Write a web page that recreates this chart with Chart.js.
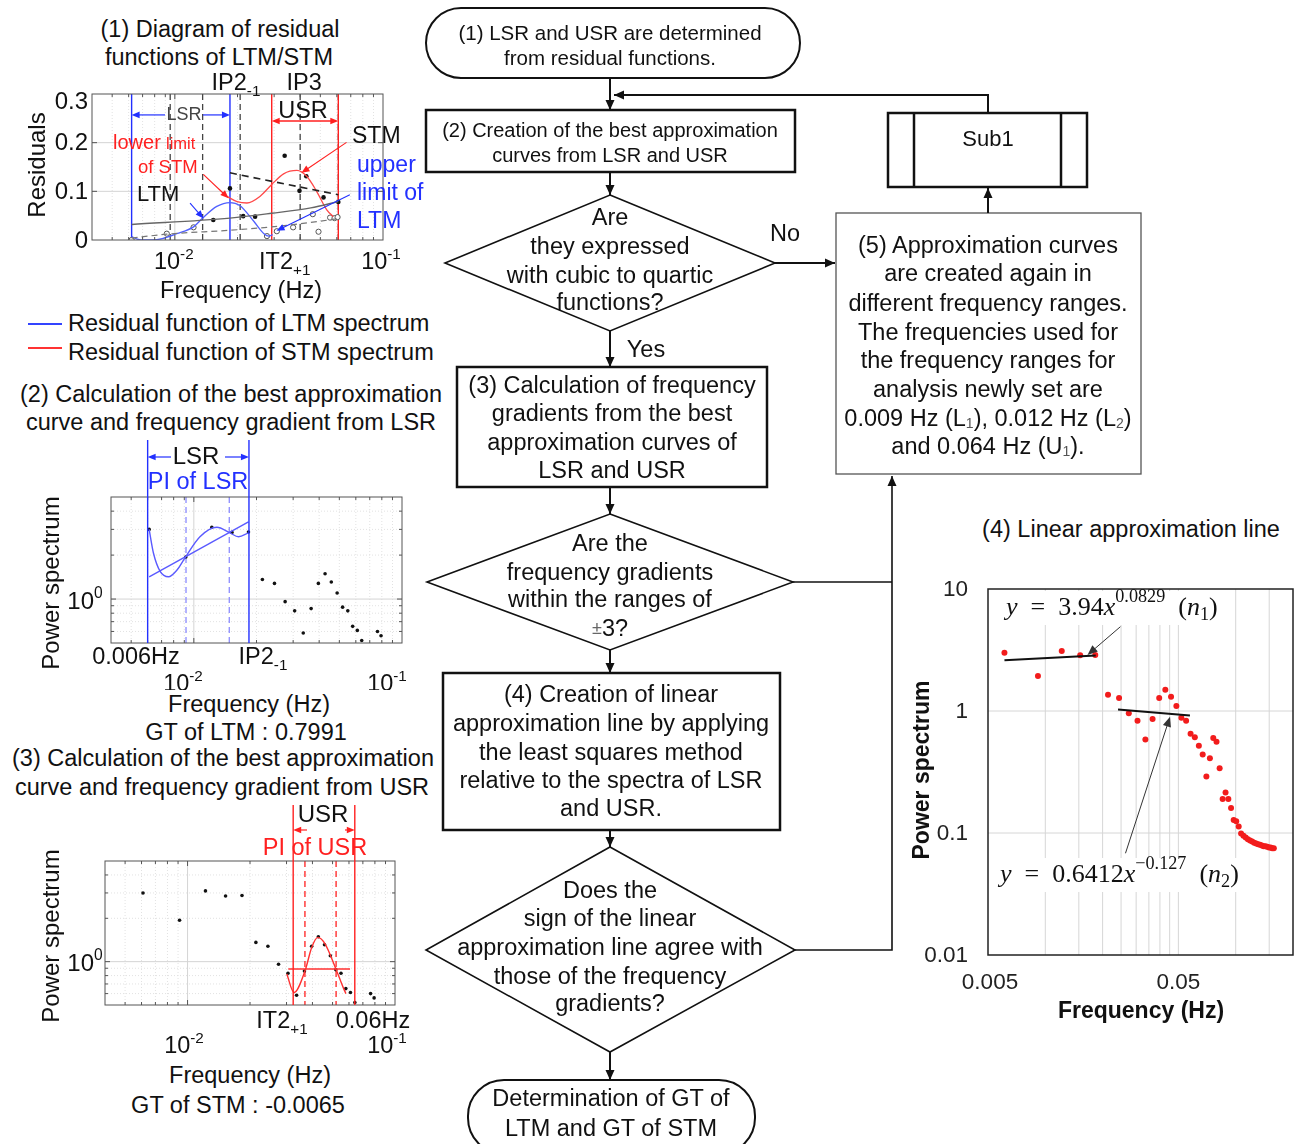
<!DOCTYPE html>
<html>
<head>
<meta charset="utf-8">
<script src="https://cdn.jsdelivr.net/npm/chart.js@4.4.1/dist/chart.umd.min.js"></script>
<style>
  body { margin:0; width:1304px; height:1144px; position:relative; overflow:hidden; background:#fff;
         font-family:"Liberation Sans", Arial, sans-serif; color:#111; }
  canvas { position:absolute; }
  .t { position:absolute; white-space:nowrap; font-size:23.5px; line-height:1; transform:translate(-50%,-50%); }
  .l { position:absolute; white-space:nowrap; font-size:23.5px; line-height:1; transform:translateY(-50%); }
  .sw { position:absolute; width:34px; height:0; }
  #flow { position:absolute; left:0; top:0; pointer-events:none; }
  #flow text { font-family:"Liberation Sans", Arial, sans-serif; fill:#111; }
</style>
</head>
<body>

<div class="t" style="left:220px;top:30px">(1) Diagram of residual</div>
<div class="t" style="left:219px;top:58px">functions of LTM/STM</div>
<canvas id="c1" width="440" height="240" style="left:0;top:70px"></canvas>
<div class="sw" style="left:28px;top:323px;border-top:2px solid #3344ff"></div>
<div class="l" style="left:68px;top:324px">Residual function of LTM spectrum</div>
<div class="sw" style="left:28px;top:347px;border-top:2px solid #ff3333"></div>
<div class="l" style="left:68px;top:353px">Residual function of STM spectrum</div>

<div class="t" style="left:231px;top:395px">(2) Calculation of the best approximation</div>
<div class="t" style="left:231px;top:423px">curve and frequency gradient from LSR</div>
<canvas id="c2" width="440" height="260" style="left:0;top:430px"></canvas>
<div class="t" style="left:249px;top:705px">Frequency (Hz)</div>
<div class="t" style="left:246px;top:733px">GT of LTM : 0.7991</div>

<div class="t" style="left:223px;top:759px">(3) Calculation of the best approximation</div>
<div class="t" style="left:222px;top:788px">curve and frequency gradient from USR</div>
<canvas id="c3" width="440" height="265" style="left:0;top:795px"></canvas>
<div class="t" style="left:250px;top:1076px">Frequency (Hz)</div>
<div class="t" style="left:238px;top:1106px">GT of STM : -0.0065</div>

<div class="t" style="left:1131px;top:530px">(4) Linear approximation line</div>
<canvas id="c4" width="404" height="480" style="left:900px;top:560px"></canvas>

<svg id="flow" width="1304" height="1144">
  <defs>
    <marker id="ah" markerUnits="userSpaceOnUse" markerWidth="10" markerHeight="10" viewBox="0 0 10 10" refX="10" refY="5" orient="auto">
      <path d="M0,0.5 L10,5 L0,9.5 z" fill="#111"/>
    </marker>
  </defs>
  <g fill="none" stroke="#111">
    <rect x="426" y="8" width="374" height="70" rx="35" stroke-width="2"/>
    <line x1="610" y1="78" x2="610" y2="110" stroke-width="2" marker-end="url(#ah)"/>
    <polyline points="988,113 988,95 614,95" stroke-width="2" marker-end="url(#ah)"/>
    <rect x="426" y="110" width="369" height="62" stroke-width="2.5"/>
    <line x1="610" y1="172" x2="610" y2="195" stroke-width="2" marker-end="url(#ah)"/>
    <polygon points="610,195 775,263 610,331 445,263" stroke-width="1.6"/>
    <line x1="775" y1="263" x2="835" y2="263" stroke-width="2" marker-end="url(#ah)"/>
    <line x1="610" y1="331" x2="610" y2="367" stroke-width="2" marker-end="url(#ah)"/>
    <rect x="457" y="367" width="310" height="120" stroke-width="2.5"/>
    <line x1="610" y1="487" x2="610" y2="514" stroke-width="2" marker-end="url(#ah)"/>
    <polygon points="610,514 793,582 610,650 427,582" stroke-width="1.6"/>
    <polyline points="793,582 892,582" stroke-width="1.6"/>
    <polyline points="795,950 892,950 892,476" stroke-width="1.6" marker-end="url(#ah)"/>
    <line x1="610" y1="650" x2="610" y2="673" stroke-width="2" marker-end="url(#ah)"/>
    <rect x="443" y="673" width="337" height="157" stroke-width="2.5"/>
    <line x1="610" y1="830" x2="610" y2="847" stroke-width="2" marker-end="url(#ah)"/>
    <polygon points="610,847 795,950 610,1052 426,950" stroke-width="1.6"/>
    <line x1="610" y1="1052" x2="610" y2="1080" stroke-width="2" marker-end="url(#ah)"/>
    <rect x="468" y="1080" width="287" height="74" rx="36" stroke-width="2"/>
    <rect x="836" y="213" width="305" height="261" stroke="#555" stroke-width="1.3"/>
    <line x1="988" y1="213" x2="988" y2="188" stroke-width="2" marker-end="url(#ah)"/>
    <rect x="888" y="113" width="199" height="74" stroke-width="2.5"/>
    <line x1="914" y1="113" x2="914" y2="187" stroke-width="2.5"/>
    <line x1="1061" y1="113" x2="1061" y2="187" stroke-width="2.5"/>
  </g>
  <g text-anchor="middle" dominant-baseline="central">
    <text x="610" y="32" font-size="20.5">(1) LSR and USR are determined</text>
    <text x="610" y="57" font-size="20.5">from residual functions.</text>
    <text x="610" y="130" font-size="20">(2) Creation of the best approximation</text>
    <text x="610" y="155" font-size="20">curves from LSR and USR</text>
    <text x="610" y="217" font-size="23.5">Are</text>
    <text x="610" y="246" font-size="23.5">they expressed</text>
    <text x="610" y="275" font-size="23.5">with cubic to quartic</text>
    <text x="610" y="302" font-size="23.5">functions?</text>
    <text x="785" y="233" font-size="23.5">No</text>
    <text x="646" y="349" font-size="23.5">Yes</text>
    <text x="612" y="385" font-size="23.5">(3) Calculation of frequency</text>
    <text x="612" y="413" font-size="23.5">gradients from the best</text>
    <text x="612" y="442" font-size="23.5">approximation curves of</text>
    <text x="612" y="470" font-size="23.5">LSR and USR</text>
    <text x="610" y="543" font-size="23.5">Are the</text>
    <text x="610" y="572" font-size="23.5">frequency  gradients</text>
    <text x="610" y="599" font-size="23.5">within the ranges of</text>
    <text x="610" y="628" font-size="23.5"><tspan font-size="18" fill="#666">±</tspan>3?</text>
    <text x="611" y="694" font-size="23.5">(4) Creation of linear</text>
    <text x="611" y="723" font-size="23.5">approximation line by applying</text>
    <text x="611" y="752" font-size="23.5">the least squares method</text>
    <text x="611" y="780" font-size="23.5">relative to the spectra of LSR</text>
    <text x="611" y="808" font-size="23.5">and USR.</text>
    <text x="610" y="890" font-size="23.5">Does the</text>
    <text x="610" y="918" font-size="23.5">sign of the linear</text>
    <text x="610" y="947" font-size="23.5">approximation line agree with</text>
    <text x="610" y="976" font-size="23.5">those of the frequency</text>
    <text x="610" y="1003" font-size="23.5">gradients?</text>
    <text x="611" y="1098" font-size="23.5">Determination of GT of</text>
    <text x="611" y="1128" font-size="23.5">LTM and GT of STM</text>
    <text x="988" y="138" font-size="22">Sub1</text>
    <text x="988" y="245" font-size="23.5">(5) Approximation curves</text>
    <text x="988" y="273" font-size="23.5">are created again in</text>
    <text x="988" y="303" font-size="23.5">different frequency ranges.</text>
    <text x="988" y="332" font-size="23.5">The frequencies used for</text>
    <text x="988" y="360" font-size="23.5">the frequency ranges for</text>
    <text x="988" y="389" font-size="23.5">analysis newly set are</text>
    <text x="988" y="418" font-size="23.5">0.009 Hz (L<tspan font-size="14" dy="5" fill="#555">1</tspan><tspan dy="-5">), 0.012 Hz (L</tspan><tspan font-size="14" dy="5" fill="#555">2</tspan><tspan dy="-5">)</tspan></text>
    <text x="988" y="446" font-size="23.5">and 0.064 Hz (U<tspan font-size="14" dy="5" fill="#555">1</tspan><tspan dy="-5">).</tspan></text>
  </g>
</svg>

<script>
// ---- spectrum shared by panels (2), (3) and (4) ----
const freqHz = [0.0061, 0.00915, 0.0122, 0.01525, 0.0183, 0.02135, 0.0244, 0.02745, 0.0305, 0.03355,
  0.0366, 0.03965, 0.0427, 0.04575, 0.0488, 0.05185, 0.0549, 0.05795, 0.061, 0.06405,
  0.0671, 0.07015, 0.0732, 0.07625, 0.0793, 0.08235, 0.0854, 0.08845, 0.0915, 0.09455,
  0.0976, 0.10065, 0.1037, 0.10675, 0.1098, 0.11285, 0.1159, 0.11895, 0.122, 0.12505,
  0.1281, 0.13115, 0.1342, 0.13725, 0.1403, 0.14335, 0.1464, 0.14945, 0.1525, 0.15555, 0.1586];
const power = [3.0, 1.94, 3.1, 2.86, 2.88, 1.36, 1.28, 0.96, 0.83, 0.585,
  0.86, 1.28, 1.49, 1.31, 1.1, 0.88, 0.83, 0.65, 0.61, 0.52,
  0.44, 0.29, 0.41, 0.6, 0.56, 0.34, 0.19, 0.215, 0.19, 0.16,
  0.128, 0.125, 0.113, 0.099, 0.095, 0.092, 0.089, 0.087, 0.085, 0.083,
  0.082, 0.081, 0.08, 0.079, 0.078, 0.078, 0.077, 0.076, 0.076, 0.075, 0.075];

// ---- panel (1): residual functions ----
const ltmResX = [0.0062, 0.0066, 0.0071, 0.0078, 0.0087, 0.0102, 0.0123, 0.0136, 0.0159, 0.0184, 0.0205, 0.024, 0.0268, 0.0283, 0.0295];
const ltmResY = [0.007, 0.002, 0.0, 0.0, 0.003, 0.013, 0.027, 0.045, 0.069, 0.077, 0.071, 0.038, 0.013, 0.008, 0.011];
const stmResX = [0.0177, 0.0199, 0.0222, 0.0257, 0.0292, 0.0333, 0.0386, 0.043, 0.048, 0.0537, 0.0577];
const stmResY = [0.09, 0.079, 0.076, 0.09, 0.114, 0.136, 0.143, 0.131, 0.1, 0.062, 0.048];
const ltmFitX = [0.0062, 0.0184, 0.0292, 0.045, 0.061];
const ltmFitY = [0.032, 0.045, 0.055, 0.066, 0.079];
const lowDashX = [0.0062, 0.00915, 0.0184, 0.0277, 0.045, 0.061];
const lowDashY = [0.004, 0.012, 0.02, 0.026, 0.036, 0.044];
const highDashX = [0.0184, 0.061];
const highDashY = [0.138, 0.093];
const stmDotX = [0.0153, 0.0184, 0.0213, 0.0243, 0.0337, 0.0397, 0.0428, 0.0518, 0.061];
const stmDotY = [0.041, 0.106, 0.049, 0.048, 0.173, 0.101, 0.131, 0.0875, 0.078];
const ltmRingX = [0.0062, 0.00915, 0.0123, 0.0277, 0.0309, 0.037, 0.046, 0.049, 0.0557, 0.0585, 0.0605];
const ltmRingY = [0.0, 0.013, 0.026, 0.008, 0.018, 0.026, 0.053, 0.017, 0.046, 0.045, 0.047];
const res1Dashed = [0.0095, 0.0136, 0.0206, 0.04, 0.061];
const res1Lsr = [0.0062, 0.0184];
const res1Usr = [0.0292, 0.061];
const res1TicksY = [0, 0.1, 0.2, 0.3];

// ---- panel (2): LSR ----
const lsrEdge = [0.006, 0.0184];
const lsrPI = [0.00917, 0.0148];
const lsrCubicX = [0.0061, 0.0064, 0.0069, 0.00755, 0.0083, 0.0091, 0.0107, 0.0129, 0.0149, 0.0164, 0.0183];
const lsrCubicY = [3.0, 2.06, 1.54, 1.42, 1.58, 1.93, 2.67, 3.1, 2.84, 2.67, 2.84];
const lsrLineX = [0.0061, 0.0183];
const lsrLineY = [1.42, 3.38];

// ---- panel (3): USR ----
const usrEdge = [0.0323, 0.064];
const usrPI = [0.0368, 0.052];
const usrCubicX = [0.0301, 0.0326, 0.0368, 0.0397, 0.0425, 0.046, 0.0519, 0.0563, 0.058];
const usrCubicY = [0.82, 0.61, 0.86, 1.26, 1.475, 1.33, 0.89, 0.66, 0.6];
const usrLineX = [0.0306, 0.0607];
const usrLineY = [0.89, 0.89];

// ---- panel (4): linear approximation ----
const fit1X = [0.0061, 0.0184];
const fit1Y = [2.6, 2.85];
const fit2X = [0.0241, 0.0575];
const fit2Y = [1.03, 0.92];
const lin4TicksY = [10, 1, 0.1, 0.01];
const lin4GridX = [0.01, 0.015, 0.02, 0.025, 0.03, 0.035, 0.04, 0.045, 0.05, 0.1, 0.15];
const lin4GridY = [1, 0.1];

// grid positions of the MATLAB style panels
const logGridX = [0.005, 0.006, 0.007, 0.008, 0.009, 0.01, 0.02, 0.03, 0.04, 0.05, 0.06, 0.07, 0.08, 0.09];
const specGridY = [0.6, 0.7, 0.8, 0.9, 1, 2, 3, 4];

const FONT = '"Liberation Sans", Arial, sans-serif';
const SERIF = '"Liberation Serif", "DejaVu Serif", serif';
const BLUE = '#2230ff', RED = '#ff2020';

function pts(xs, ys) { return xs.map((x, i) => ({ x: x, y: ys[i] })); }

function seg(ctx, x0, y0, x1, y1, color, w, dash) {
  ctx.save();
  ctx.strokeStyle = color; ctx.lineWidth = w; ctx.setLineDash(dash || []);
  ctx.beginPath(); ctx.moveTo(x0, y0); ctx.lineTo(x1, y1); ctx.stroke();
  ctx.restore();
}
function tri(ctx, x, y, ang, h) {
  const c = Math.cos(ang), s = Math.sin(ang), w = h * 0.42;
  ctx.beginPath(); ctx.moveTo(x, y);
  ctx.lineTo(x - h * c + w * s, y - h * s - w * c);
  ctx.lineTo(x - h * c - w * s, y - h * s + w * c);
  ctx.closePath(); ctx.fill();
}
function arrow(ctx, x0, y0, x1, y1, color, w, h, both) {
  const ang = Math.atan2(y1 - y0, x1 - x0);
  const k = h * 0.8;
  const sx = both ? x0 + Math.cos(ang) * k : x0, sy = both ? y0 + Math.sin(ang) * k : y0;
  seg(ctx, sx, sy, x1 - Math.cos(ang) * k, y1 - Math.sin(ang) * k, color, w);
  ctx.save(); ctx.fillStyle = color;
  tri(ctx, x1, y1, ang, h);
  if (both) tri(ctx, x0, y0, ang + Math.PI, h);
  ctx.restore();
}
function txt(ctx, s, x, y, size, color, align, weight) {
  ctx.save();
  ctx.font = (weight ? weight + ' ' : '') + size + 'px ' + FONT;
  ctx.fillStyle = color; ctx.textAlign = align || 'center'; ctx.textBaseline = 'middle';
  ctx.fillText(s, x, y);
  ctx.restore();
}
function vtxt(ctx, s, x, y, size, color, weight) {
  ctx.save(); ctx.translate(x, y); ctx.rotate(-Math.PI / 2);
  txt(ctx, s, 0, 0, size, color, 'center', weight);
  ctx.restore();
}
// base text with a raised (sup) or lowered (sub) small part, centred on cx
function scriptTxt(ctx, base, small, cx, cy, size, color, lowered) {
  ctx.save();
  ctx.font = size + 'px ' + FONT; const wb = ctx.measureText(base).width;
  ctx.font = (size * 0.65) + 'px ' + FONT; const ws = ctx.measureText(small).width;
  const x = cx - (wb + ws) / 2;
  ctx.fillStyle = color; ctx.textAlign = 'left'; ctx.textBaseline = 'middle';
  ctx.font = size + 'px ' + FONT; ctx.fillText(base, x, cy);
  ctx.font = (size * 0.65) + 'px ' + FONT;
  ctx.fillText(small, x + wb, lowered ? cy + size * 0.32 : cy - size * 0.36);
  ctx.restore();
}
function frame(ctx, a, color, w) {
  ctx.save(); ctx.strokeStyle = color; ctx.lineWidth = w;
  ctx.strokeRect(a.left, a.top, a.right - a.left, a.bottom - a.top);
  ctx.restore();
}
function isDecade(v) { return Math.abs(Math.log10(v) - Math.round(Math.log10(v))) < 1e-6; }

// MATLAB-like grid with dotted minor lines and inward ticks
function matGrid(c, gx, gy, majorY) {
  const ctx = c.ctx, a = c.chartArea;
  gx.forEach(v => {
    const x = c.scales.x.getPixelForValue(v), maj = isDecade(v);
    seg(ctx, x, a.top, x, a.bottom, maj ? '#d4d4d4' : '#e2e2e2', 1, maj ? [] : [1, 2]);
  });
  gy.forEach(v => {
    const y = c.scales.y.getPixelForValue(v), maj = majorY(v);
    seg(ctx, a.left, y, a.right, y, maj ? '#d4d4d4' : '#e2e2e2', 1, maj ? [] : [1, 2]);
  });
}
function matTicks(c, gx, gy, majorY) {
  const ctx = c.ctx, a = c.chartArea;
  gx.forEach(v => {
    const x = c.scales.x.getPixelForValue(v), L = isDecade(v) ? 5 : 3;
    seg(ctx, x, a.bottom, x, a.bottom - L, '#555', 1);
    seg(ctx, x, a.top, x, a.top + L, '#555', 1);
  });
  gy.forEach(v => {
    const y = c.scales.y.getPixelForValue(v), L = majorY(v) ? 5 : 3;
    seg(ctx, a.left, y, a.left + L, y, '#555', 1);
    seg(ctx, a.right, y, a.right - L, y, '#555', 1);
  });
}

function makeChart(id, pad, xs, ys, datasets, draw) {
  return new Chart(document.getElementById(id), {
    type: 'scatter',
    data: { datasets: datasets },
    options: {
      responsive: false, animation: false, events: [],
      layout: { padding: pad },
      plugins: { legend: { display: false }, tooltip: { enabled: false } },
      scales: { x: Object.assign({ display: false }, xs), y: Object.assign({ display: false }, ys) }
    },
    plugins: [{ id: 'decor', beforeDatasetsDraw: c => draw.under(c), afterDatasetsDraw: c => draw.over(c) }]
  });
}

function curve(xs, ys, color, w, dash, smooth) {
  return { data: pts(xs, ys), showLine: true, borderColor: color, borderWidth: w, borderDash: dash || [],
           pointRadius: 0, cubicInterpolationMode: smooth ? 'monotone' : 'default', tension: 0 };
}
function dots(xs, ys, r, fill, stroke, bw) {
  return { data: pts(xs, ys), showLine: false, pointRadius: r, pointBackgroundColor: fill,
           pointBorderColor: stroke, pointBorderWidth: bw };
}

// ================= panel (1) =================
const res1Major = v => v === 0.1 || v === 0.2;
makeChart('c1', { left: 92, top: 24, right: 57, bottom: 70 },
  { type: 'logarithmic', min: 0.004, max: 0.1 }, { type: 'linear', min: 0, max: 0.3 },
  [
    curve(ltmFitX, ltmFitY, '#666', 1.4, null, true),
    curve(lowDashX, lowDashY, '#777', 1.2, [6, 4], true),
    curve(highDashX, highDashY, '#222', 1.6, [7, 5], false),
    curve(ltmResX, ltmResY, '#5060ff', 1.3, null, true),
    curve(stmResX, stmResY, '#ff4848', 1.3, null, true),
    dots(ltmRingX, ltmRingY, 2.6, '#fff', '#555', 1),
    dots(stmDotX, stmDotY, 2.3, '#111', '#111', 0)
  ],
  {
    under(c) {
      const ctx = c.ctx, a = c.chartArea, X = v => c.scales.x.getPixelForValue(v);
      matGrid(c, logGridX, [0.1, 0.2], res1Major);
      res1Dashed.forEach(v => seg(ctx, X(v), a.top, X(v), a.bottom, '#444', 1.3, [6, 4]));
      res1Lsr.forEach(v => seg(ctx, X(v), a.top, X(v), a.bottom, BLUE, 1.4));
      res1Usr.forEach(v => seg(ctx, X(v), a.top, X(v), a.bottom, RED, 1.4));
    },
    over(c) {
      const ctx = c.ctx, a = c.chartArea;
      const X = v => c.scales.x.getPixelForValue(v), Y = v => c.scales.y.getPixelForValue(v);
      matTicks(c, logGridX, [0.1, 0.2], res1Major);
      frame(ctx, a, '#555', 1);
      res1TicksY.forEach(v => txt(ctx, String(v), 88, Math.max(Y(v) + 1, a.top + 8), 24, '#111', 'right'));
      scriptTxt(ctx, '10', '-2', X(0.01) - 1, 193, 23.5, '#111');
      scriptTxt(ctx, 'IT2', '+1', X(res1Usr[0]) + 13, 193, 23.5, '#111', true);
      scriptTxt(ctx, '10', '-1', X(0.1) - 2, 193, 23.5, '#111');
      txt(ctx, 'Frequency (Hz)', 241, 222, 23.5, '#111');
      vtxt(ctx, 'Residuals', 38, 95, 24, '#111');
      scriptTxt(ctx, 'IP2', '-1', X(res1Lsr[1]) + 6, 14, 23.5, '#111', true);
      txt(ctx, 'IP3', X(0.04) + 4, 14, 23.5, '#111');
      // LSR / USR spans
      arrow(ctx, X(0.00897), Y(0.257), X(res1Lsr[0]), Y(0.257), BLUE, 1.2, 8);
      arrow(ctx, X(0.01365), Y(0.257), X(res1Lsr[1]), Y(0.257), BLUE, 1.2, 8);
      txt(ctx, 'LSR', 184, 45, 18, '#444');
      arrow(ctx, X(res1Usr[0]), Y(0.2445), X(res1Usr[1]), Y(0.2445), RED, 1.4, 8, true);
      txt(ctx, 'USR', 303, 42, 23.5, '#111');
      // callouts
      arrow(ctx, X(0.01183), Y(0.0756), X(0.01372), Y(0.0444), BLUE, 1.1, 8);
      arrow(ctx, X(0.0137), Y(0.1348), X(0.0181), Y(0.086), RED, 1.1, 8);
      arrow(ctx, X(0.0668), Y(0.2006), X(0.0406), Y(0.138), RED, 1.1, 8);
      arrow(ctx, X(0.0693), Y(0.093), X(0.0308), Y(0.019), BLUE, 1.1, 8);
      txt(ctx, 'lower', 113, 73, 20, RED, 'left');
      txt(ctx, 'limit', 166, 74, 16.5, RED, 'left');
      txt(ctx, 'of STM', 138, 98, 18.5, RED, 'left');
      txt(ctx, 'LTM', 137, 125, 22, '#111', 'left');
      txt(ctx, 'STM', 352, 67, 23, '#111', 'left');
      txt(ctx, 'upper', 357, 96, 23, BLUE, 'left');
      txt(ctx, 'limit of', 357, 124, 23, BLUE, 'left');
      txt(ctx, 'LTM', 357, 152, 23, BLUE, 'left');
    }
  });

// ================= panel (2) =================
const specMajor = v => v === 1;
makeChart('c2', { left: 111, top: 67, right: 38, bottom: 47 },
  { type: 'logarithmic', min: 0.004, max: 0.1 }, { type: 'logarithmic', min: 0.5, max: 5 },
  [
    curve(lsrCubicX, lsrCubicY, '#5a5aff', 1.4, null, true),
    curve(lsrLineX, lsrLineY, '#5a5aff', 1.4, null, false),
    dots(freqHz, power, 1.8, '#111', '#111', 0)
  ],
  {
    under(c) {
      const ctx = c.ctx, a = c.chartArea, X = v => c.scales.x.getPixelForValue(v);
      matGrid(c, logGridX, specGridY, specMajor);
      lsrPI.forEach(v => seg(ctx, X(v), a.top, X(v), a.bottom, '#8c8cff', 1.3, [6, 4]));
    },
    over(c) {
      const ctx = c.ctx, a = c.chartArea;
      const X = v => c.scales.x.getPixelForValue(v), Y = v => c.scales.y.getPixelForValue(v);
      matTicks(c, logGridX, specGridY, specMajor);
      frame(ctx, a, '#555', 1);
      lsrEdge.forEach(v => seg(ctx, X(v), 10, X(v), a.bottom, BLUE, 1.4));
      arrow(ctx, 171, 27, X(lsrEdge[0]), 27, BLUE, 1.2, 8);
      arrow(ctx, 225, 27, X(lsrEdge[1]), 27, BLUE, 1.2, 8);
      txt(ctx, 'LSR', 196, 27, 24, '#111');
      txt(ctx, 'PI of LSR', 198, 53, 23.5, BLUE);
      scriptTxt(ctx, '10', '0', 85, Y(1) + 3, 24, '#111');
      txt(ctx, '0.006Hz', 136, 228, 23.5, '#111');
      scriptTxt(ctx, 'IP2', '-1', 263, 228, 23.5, '#111', true);
      scriptTxt(ctx, '10', '-2', 183, 255, 23.5, '#111');
      scriptTxt(ctx, '10', '-1', 387, 255, 23.5, '#111');
      vtxt(ctx, 'Power spectrum', 52, 153, 24, '#111');
    }
  });

// ================= panel (3) =================
makeChart('c3', { left: 105, top: 66, right: 45, bottom: 55 },
  { type: 'logarithmic', min: 0.004, max: 0.1 }, { type: 'logarithmic', min: 0.5, max: 5 },
  [
    curve(usrCubicX, usrCubicY, '#ff3030', 1.4, null, true),
    curve(usrLineX, usrLineY, '#ff3030', 1.4, null, false),
    dots(freqHz, power, 1.8, '#111', '#111', 0)
  ],
  {
    under(c) {
      const ctx = c.ctx, a = c.chartArea, X = v => c.scales.x.getPixelForValue(v);
      matGrid(c, logGridX, specGridY, specMajor);
      usrPI.forEach(v => seg(ctx, X(v), a.top, X(v), a.bottom, RED, 1.3, [6, 4]));
    },
    over(c) {
      const ctx = c.ctx, a = c.chartArea;
      const X = v => c.scales.x.getPixelForValue(v), Y = v => c.scales.y.getPixelForValue(v);
      matTicks(c, logGridX, specGridY, specMajor);
      frame(ctx, a, '#555', 1);
      usrEdge.forEach(v => seg(ctx, X(v), 10, X(v), a.bottom, RED, 1.4));
      txt(ctx, 'USR', 323, 20, 24, '#111');
      arrow(ctx, 307, 35, X(usrEdge[0]), 35, RED, 1.2, 8);
      arrow(ctx, 345, 35, X(usrEdge[1]), 35, RED, 1.2, 8);
      txt(ctx, 'PI of USR', 315, 54, 23.5, RED);
      scriptTxt(ctx, '10', '0', 85, Y(1) + 3, 24, '#111');
      scriptTxt(ctx, 'IT2', '+1', 282, 227, 23.5, '#111', true);
      txt(ctx, '0.06Hz', 373, 227, 23.5, '#111');
      scriptTxt(ctx, '10', '-2', 184, 252, 23.5, '#111');
      scriptTxt(ctx, '10', '-1', 387, 252, 23.5, '#111');
      vtxt(ctx, 'Power spectrum', 52, 141, 24, '#111');
    }
  });

// ================= panel (4) =================
function mathRuns(ctx, runs, x, y, size, measureOnly) {
  let cx = x;
  ctx.save(); ctx.fillStyle = '#111'; ctx.textAlign = 'left'; ctx.textBaseline = 'middle';
  runs.forEach(([s, k]) => {
    const small = k === 'sup' || k === 'sub';
    ctx.font = (k === 'i' ? 'italic ' : '') + (small ? size * 0.7 : size) + 'px ' + SERIF;
    const dy = k === 'sup' ? -size * 0.4 : (k === 'sub' ? size * 0.28 : 0);
    if (!measureOnly) ctx.fillText(s, cx, y + dy);
    cx += ctx.measureText(s).width;
  });
  ctx.restore();
  return cx - x;
}
function equation(ctx, runs, x, y, size) {
  const w = mathRuns(ctx, runs, x, y, size, true);
  ctx.save(); ctx.fillStyle = '#fff'; ctx.fillRect(x - 4, y - 17, w + 8, 34); ctx.restore();
  mathRuns(ctx, runs, x, y, size, false);
}
const eq1 = [['y', 'i'], ['  =  ', 'r'], ['3.94', 'r'], ['x', 'i'], ['0.0829', 'sup'], ['  (', 'r'], ['n', 'i'], ['1', 'sub'], [')', 'r']];
const eq2 = [['y', 'i'], ['  =  ', 'r'], ['0.6412', 'r'], ['x', 'i'], ['\u22120.127', 'sup'], ['  (', 'r'], ['n', 'i'], ['2', 'sub'], [')', 'r']];

makeChart('c4', { left: 88, top: 29, right: 11, bottom: 85 },
  { type: 'logarithmic', min: 0.005, max: 0.2 }, { type: 'logarithmic', min: 0.01, max: 10 },
  [
    curve(fit1X, fit1Y, '#111', 2, null, false),
    curve(fit2X, fit2Y, '#111', 2, null, false),
    dots(freqHz, power, 3, '#f21c1c', '#f21c1c', 0)
  ],
  {
    under(c) {
      const ctx = c.ctx, a = c.chartArea;
      const X = v => c.scales.x.getPixelForValue(v), Y = v => c.scales.y.getPixelForValue(v);
      lin4GridX.forEach(v => seg(ctx, X(v), a.top, X(v), a.bottom, '#d6d6d6', 1));
      lin4GridY.forEach(v => seg(ctx, a.left, Y(v), a.right, Y(v), '#d6d6d6', 1));
    },
    over(c) {
      const ctx = c.ctx, a = c.chartArea;
      const X = v => c.scales.x.getPixelForValue(v), Y = v => c.scales.y.getPixelForValue(v);
      frame(ctx, a, '#222', 1.5);
      lin4TicksY.forEach(v => txt(ctx, String(v), 68, Y(v) + 1, 22.5, '#222', 'right'));
      txt(ctx, '0.005', X(0.005) + 2, 423, 22.5, '#222');
      txt(ctx, '0.05', X(0.05), 423, 22.5, '#222');
      txt(ctx, 'Frequency (Hz)', 241, 452, 23, '#111', 'center', 'bold');
      vtxt(ctx, 'Power spectrum', 23, 210, 23, '#111', 'bold');
      equation(ctx, eq1, 106, 48, 26);
      equation(ctx, eq2, 100, 315, 26);
      arrow(ctx, X(0.0248), Y(4.91), X(0.01666), Y(2.88), '#333', 1, 10);
      arrow(ctx, X(0.02637), Y(0.0682), X(0.0452), Y(0.898), '#333', 1, 10);
    }
  });
</script>
</body>
</html>
